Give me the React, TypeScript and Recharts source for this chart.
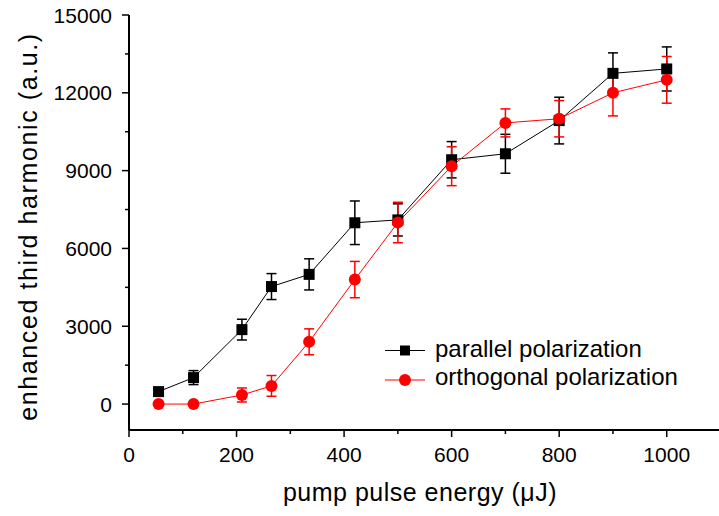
import React from 'react';
import { LineChart, Line, XAxis, YAxis, ErrorBar, Legend, Label } from 'recharts';

const energy = [55, 120, 210, 265, 335, 420, 500, 600, 700, 800, 900, 1000];
const parallel = [480, 1020, 2870, 4530, 5000, 6990, 7100, 9420, 9650, 10930, 12750, 12920];
const parallelErr = [150, 270, 400, 500, 600, 840, 620, 700, 750, 900, 790, 850];
const orthogonal = [0, 0, 350, 700, 2400, 4800, 7000, 9170, 10840, 11000, 12000, 12500];
const orthogonalErr = [0, 0, 270, 400, 500, 700, 780, 750, 540, 700, 890, 900];

const xTicks = [0, 100, 200, 300, 400, 500, 600, 700, 800, 900, 1000];
const xMajorStep = 200;
const yTicks = [0, 1500, 3000, 4500, 6000, 7500, 9000, 10500, 12000, 13500, 15000];
const yMajorStep = 3000;
const seriesNames = ['parallel polarization', 'orthogonal polarization'];
const xTitle = 'pump pulse energy (\u03bcJ)';
const yTitle = 'enhanced third harmonic (a.u.)';

const data = energy.map((e, i) => ({
  e,
  par: parallel[i],
  parErr: parallelErr[i],
  orth: orthogonal[i],
  orthErr: orthogonalErr[i],
}));

const FONT = '"Liberation Sans", Arial, Helvetica, sans-serif';

const BottomTick = (props: any) => {
  const { x, y, payload } = props;
  const v = payload.value;
  const major = v % xMajorStep === 0;
  return (
    <g>
      <line x1={x} x2={x} y1={y} y2={y + (major ? 7 : 4)} stroke="#000" strokeWidth={1.5} />
      {major && (
        <text x={x} y={y + 32} textAnchor="middle" fontSize={21} fill="#000" fontFamily={FONT}>
          {v}
        </text>
      )}
    </g>
  );
};

const TopTick = (props: any) => {
  const { x, y, payload } = props;
  const major = payload.value % xMajorStep === 0;
  return <line x1={x} x2={x} y1={y} y2={y + (major ? 7 : 4)} stroke="#000" strokeWidth={1.5} />;
};

const LeftTick = (props: any) => {
  const { x, y, payload } = props;
  const v = payload.value;
  const major = v % yMajorStep === 0;
  return (
    <g>
      <line x1={x - (major ? 7 : 4)} x2={x} y1={y} y2={y} stroke="#000" strokeWidth={1.5} />
      {major && (
        <text x={x - 17} y={y + 7.5} textAnchor="end" fontSize={21} fill="#000" fontFamily={FONT}>
          {v}
        </text>
      )}
    </g>
  );
};

const RightTick = (props: any) => {
  const { x, y, payload } = props;
  const major = payload.value % yMajorStep === 0;
  return <line x1={x - (major ? 7 : 4)} x2={x} y1={y} y2={y} stroke="#000" strokeWidth={1.5} />;
};

const LegendContent = () => (
  <svg width={340} height={70} style={{ display: 'block', overflow: 'visible' }}>
    <line x1={10} x2={50} y1={20.5} y2={20.5} stroke="#000" strokeWidth={1} />
    <rect x={25} y={15.5} width={10} height={10} fill="#000" />
    <text x={60} y={27} fontSize={24} fill="#000" fontFamily={FONT}>{seriesNames[0]}</text>
    <line x1={10} x2={50} y1={50} y2={50} stroke="#ff0000" strokeWidth={1} />
    <circle cx={30} cy={50} r={6} fill="#ff0000" />
    <text x={60} y={55} fontSize={24} fill="#000" fontFamily={FONT}>{seriesNames[1]}</text>
  </svg>
);

export default function App() {
  return (
    <div style={{ position: 'absolute', left: 0, top: 0, width: 719, height: 516, overflow: 'hidden', background: '#fff' }}>
      <LineChart width={722} height={516} data={data} margin={{ top: 15, right: 1.5, bottom: 0, left: 0 }}>
        <XAxis
          xAxisId="b"
          dataKey="e"
          type="number"
          orientation="bottom"
          domain={[0, 1100]}
          allowDataOverflow
          ticks={xTicks}
          interval={0}
          height={86}
          tickSize={0}
          tickMargin={0}
          tickLine={false}
          tick={BottomTick}
          axisLine={{ stroke: '#000', strokeWidth: 2 }}
        >
          <Label
            content={() => (
              <text x={420} y={501} textAnchor="middle" fontSize={25} letterSpacing={0.5} fill="#000" fontFamily={FONT}>
                {xTitle}
              </text>
            )}
          />
        </XAxis>
        <XAxis
          xAxisId="t"
          dataKey="e"
          type="number"
          orientation="top"
          domain={[0, 1100]}
          allowDataOverflow
          ticks={xTicks}
          interval={0}
          height={0}
          tickSize={0}
          tickMargin={0}
          tickLine={false}
          tick={TopTick}
          axisLine={{ stroke: '#000', strokeWidth: 2 }}
        />
        <YAxis
          yAxisId="l"
          type="number"
          orientation="left"
          domain={[-1000, 15000]}
          allowDataOverflow
          ticks={yTicks}
          interval={0}
          width={129}
          tickSize={0}
          tickMargin={0}
          tickLine={false}
          tick={LeftTick}
          axisLine={{ stroke: '#000', strokeWidth: 2 }}
        >
          <Label
            content={() => (
              <text
                x={36.5}
                y={226.5}
                transform="rotate(-90, 36.5, 226.5)"
                textAnchor="middle"
                fontSize={25}
                letterSpacing={1.6}
                fill="#000"
                fontFamily={FONT}
              >
                {yTitle}
              </text>
            )}
          />
        </YAxis>
        <YAxis
          yAxisId="r"
          type="number"
          orientation="right"
          domain={[-1000, 15000]}
          allowDataOverflow
          ticks={yTicks}
          interval={0}
          width={0}
          tickSize={0}
          tickMargin={0}
          tickLine={false}
          tick={RightTick}
          axisLine={{ stroke: '#000', strokeWidth: 2 }}
        />
        <Legend
          layout="vertical"
          align="center"
          verticalAlign="middle"
          content={LegendContent}
          wrapperStyle={{ position: 'absolute', left: 375, top: 330, width: 340, height: 70 }}
        />
        <Line
          xAxisId="b"
          yAxisId="l"
          dataKey="par"
          name={seriesNames[0]}
          stroke="#000"
          strokeWidth={1}
          isAnimationActive={false}
          activeDot={false}
          dot={(p: any) => <rect key={`sq${p.index}`} x={p.cx - 5.5} y={p.cy - 5.5} width={11} height={11} fill="#000" />}
        >
          <ErrorBar dataKey="parErr" direction="y" width={5} stroke="#000" strokeWidth={1.5} isAnimationActive={false} />
        </Line>
        <Line
          xAxisId="b"
          yAxisId="l"
          dataKey="orth"
          name={seriesNames[1]}
          stroke="#ff0000"
          strokeWidth={1}
          isAnimationActive={false}
          activeDot={false}
          dot={(p: any) => <circle key={`ci${p.index}`} cx={p.cx} cy={p.cy} r={6} fill="#ff0000" />}
        >
          <ErrorBar dataKey="orthErr" direction="y" width={5} stroke="#ff0000" strokeWidth={1.5} isAnimationActive={false} />
        </Line>
      </LineChart>
    </div>
  );
}
